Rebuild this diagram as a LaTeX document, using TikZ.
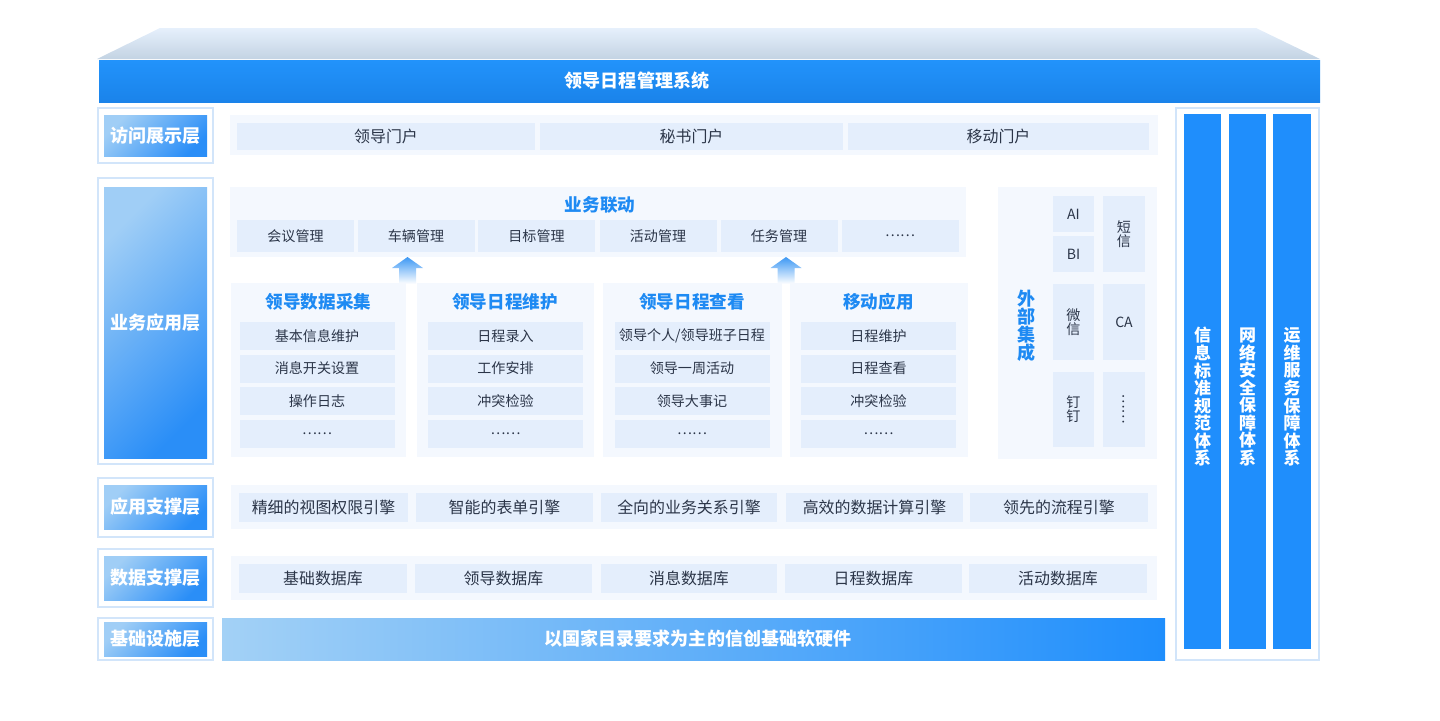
\documentclass[tikz,border=0pt]{standalone}
\usepackage{fontspec}
\setmainfont{Noto Sans CJK SC}
\usepackage{tikz}
\usetikzlibrary{positioning}
\definecolor{sysblue}{HTML}{1E8AF3}
\definecolor{titletop}{HTML}{2293FB}
\definecolor{titlebot}{HTML}{1A83EA}
\definecolor{barblue}{HTML}{1F8EFC}
\definecolor{barlight}{HTML}{A3D1F6}
\definecolor{lblhi}{HTML}{A0CEF6}
\definecolor{lbllo}{HTML}{2A8EF7}
\definecolor{panelbg}{HTML}{F4F8FE}
\definecolor{cellbg}{HTML}{E4EEFC}
\definecolor{framecol}{HTML}{D2E5FA}
\definecolor{inkdark}{HTML}{2B3548}
\definecolor{rooftop}{HTML}{E6F0FC}
\definecolor{roofbot}{HTML}{C3D3E3}
\definecolor{arrowblue}{HTML}{3D98F4}

\begin{document}
\begin{tikzpicture}[x=0.3mm, y=-0.3mm,
  sz/.style 2 args={minimum width=#1*0.3mm, minimum height=#2*0.3mm, inner sep=0pt},
  panel/.style={fill=panelbg},
  cell/.style={fill=cellbg, text=inkdark, font=\fontsize{12}{12}\selectfont},
  bigcell/.style={fill=cellbg, text=inkdark, font=\fontsize{13.6}{14}\selectfont},
  frame/.style={draw=framecol, fill=white, line width=1pt},
  layer/.style={top color=lblhi, bottom color=lbllo, shading angle=45, text=white,
                font=\fontsize{15.4}{16}\selectfont\bfseries},
  head/.style={text=sysblue, font=\fontsize{15}{16}\selectfont\bfseries},
  vcell/.style={cell, align=center},
  vtext/.style={align=center, text=white, font=\fontsize{14.5}{15}\selectfont\bfseries},
  uparrow/.style={top color=arrowblue, bottom color=white, draw=none}
]
  \useasboundingbox (0,0) rectangle (1440,720);

  % ── system roof and title ───────────────────────────────────────────────
  \shade[top color=rooftop, bottom color=roofbot] (97,59) -- (160,28) -- (1256,28) -- (1320,59) -- cycle;
  \node[sz={1221}{42}, top color=titletop, bottom color=titlebot] (sys) at (709.5,81) {};
  \node[text=white, font=\fontsize{15.4}{16}\selectfont\bfseries] (systitle) at (637,81) {领导日程管理系统};

  % ── layer labels ────────────────────────────────────────────────────────
  \node[frame, sz={115}{55}]  (accf) at (155.5,135.5) {};
  \node[layer, sz={103}{41}]  (acc)  at (155.5,135.5) {访问展示层};
  \node[frame, sz={115}{286}] (bizf) at (155.5,321)   {};
  \node[layer, sz={103}{271}] (biz)  at (155.5,322.5) {业务应用层};
  \node[frame, sz={115}{59}]  (supf) at (155.5,507.5) {};
  \node[layer, sz={103}{44}]  (sup)  at (155.5,507)   {应用支撑层};
  \node[frame, sz={115}{58}]  (datf) at (155.5,578)   {};
  \node[layer, sz={103}{44}]  (dat)  at (155.5,578)   {数据支撑层};
  \node[frame, sz={115}{42}]  (inff) at (155.5,639)   {};
  \node[layer, sz={103}{34}]  (inf)  at (155.5,639)   {基础设施层};

  % ── access layer ────────────────────────────────────────────────────────
  \node[panel, sz={928}{40}] (accrow) at (694,135) {};
  \node[bigcell, sz={298}{27}] (p1) at (386,136.5)   {领导门户};
  \node[bigcell, sz={303}{27}] (p2) at (691.5,136.5) {秘书门户};
  \node[bigcell, sz={301}{27}] (p3) at (998.5,136.5) {移动门户};

  % ── business linkage ────────────────────────────────────────────────────
  \node[panel, sz={736}{70}] (link) at (598,222) {};
  \node[head] (linkt) at (600,204.5) {业务联动};
  \node[cell, sz={117}{32}] (l1) at (295.5,236) {会议管理};
  \node[cell, sz={117}{32}] (l2) at (416,236)   {车辆管理};
  \node[cell, sz={117}{32}] (l3) at (536.5,236) {目标管理};
  \node[cell, sz={117}{32}] (l4) at (658,236)   {活动管理};
  \node[cell, sz={117}{32}] (l5) at (779,236)   {任务管理};
  \node[cell, sz={117}{32}] (l6) at (900,236)   {……};

  % ── up arrows ───────────────────────────────────────────────────────────
  \coordinate (a1) at (407.5,284);
  \coordinate (a2) at (786,284);
  \shade[uparrow] (a1) ++(-8.5,0) -- ++(0,-16) -- ++(-7,0) -- ++(15.5,-11) -- ++(15.5,11) -- ++(-7,0) -- ++(0,16) -- cycle;
  \shade[uparrow] (a2) ++(-8.5,0) -- ++(0,-16) -- ++(-7,0) -- ++(15.5,-11) -- ++(15.5,11) -- ++(-7,0) -- ++(0,16) -- cycle;

  % ── leader data collection ──────────────────────────────────────────────
  \node[panel, sz={175}{174}] (c1) at (318.5,370) {};
  \node[head] (c1t) at (318.5,301.5) {领导数据采集};
  \node[cell, sz={155}{28}] (c1a) at (317,336)   {基本信息维护};
  \node[cell, sz={155}{28}] (c1b) at (317,368.5) {消息开关设置};
  \node[cell, sz={155}{28}] (c1c) at (317,401)   {操作日志};
  \node[cell, sz={155}{28}] (c1d) at (317,433.5) {……};

  % ── schedule maintenance ────────────────────────────────────────────────
  \node[panel, sz={177}{174}] (c2) at (505,370) {};
  \node[head] (c2t) at (505,301.5) {领导日程维护};
  \node[cell, sz={155}{28}] (c2a) at (505.5,336)   {日程录入};
  \node[cell, sz={155}{28}] (c2b) at (505.5,368.5) {工作安排};
  \node[cell, sz={155}{28}] (c2c) at (505.5,401)   {冲突检验};
  \node[cell, sz={155}{28}] (c2d) at (505.5,433.5) {……};

  % ── schedule view ───────────────────────────────────────────────────────
  \node[panel, sz={179}{174}] (c3) at (692,370) {};
  \node[head] (c3t) at (692,301.5) {领导日程查看};
  \node[cell, sz={155}{28}] (c3a) at (692,336)   {领导个人/领导班子日程};
  \node[cell, sz={155}{28}] (c3b) at (692,368.5) {领导一周活动};
  \node[cell, sz={155}{28}] (c3c) at (692,401)   {领导大事记};
  \node[cell, sz={155}{28}] (c3d) at (692,433.5) {……};

  % ── mobile app ──────────────────────────────────────────────────────────
  \node[panel, sz={178}{174}] (c4) at (878.5,370) {};
  \node[head] (c4t) at (878.5,301.5) {移动应用};
  \node[cell, sz={155}{28}] (c4a) at (878.5,336)   {日程维护};
  \node[cell, sz={155}{28}] (c4b) at (878.5,368.5) {日程查看};
  \node[cell, sz={155}{28}] (c4c) at (878.5,401)   {冲突检验};
  \node[cell, sz={155}{28}] (c4d) at (878.5,433.5) {……};

  % ── external integration ────────────────────────────────────────────────
  \node[panel, sz={159}{272}] (ext) at (1077.5,323) {};
  \node[head, align=center, font=\fontsize{15.4}{15.4}\selectfont\bfseries] (extt) at (1027,326) {外\\部\\集\\成};
  \node[cell, sz={41}{36}]  (xai) at (1073.5,214)   {AI};
  \node[cell, sz={41}{36}]  (xbi) at (1073.5,254)   {BI};
  \node[vcell, sz={42}{76}] (xsm) at (1124,234)     {短\\信};
  \node[vcell, sz={41}{76}] (xwx) at (1073.5,322)   {微\\信};
  \node[cell, sz={42}{76}]  (xca) at (1124,322)     {CA};
  \node[vcell, sz={41}{75}] (xdd) at (1073.5,409.5) {钉\\钉};
  \node[cell, sz={42}{75}]  (xmo) at (1124,409.5)   {};
  \node[text=inkdark, rotate=90, font=\fontsize{12}{12}\selectfont] (xmot) at (1124,409.5) {……};

  % ── support systems ─────────────────────────────────────────────────────
  \node[frame, sz={143}{552}] (sysf) at (1247.5,384) {};
  \node[fill=barblue, sz={37}{535}] (s1) at (1202.5,381.5) {};
  \node[fill=barblue, sz={37}{535}] (s2) at (1247.5,381.5) {};
  \node[fill=barblue, sz={38}{535}] (s3) at (1292,381.5)   {};
  \node[vtext] (s1t) at (1202.5,397) {信\\息\\标\\准\\规\\范\\体\\系};
  \node[vtext] (s2t) at (1247.5,397) {网\\络\\安\\全\\保\\障\\体\\系};
  \node[vtext] (s3t) at (1292,397)   {运\\维\\服\\务\\保\\障\\体\\系};

  % ── application support ─────────────────────────────────────────────────
  \node[panel, sz={926}{44}] (engrow) at (694,507) {};
  \node[bigcell, sz={169}{29}] (e1) at (323.5,507.5)  {精细的视图权限引擎};
  \node[bigcell, sz={177}{29}] (e2) at (504.5,507.5)  {智能的表单引擎};
  \node[bigcell, sz={176}{29}] (e3) at (689,507.5)    {全向的业务关系引擎};
  \node[bigcell, sz={177}{29}] (e4) at (874.5,507.5)  {高效的数据计算引擎};
  \node[bigcell, sz={178}{29}] (e5) at (1059,507.5)   {领先的流程引擎};

  % ── data support ────────────────────────────────────────────────────────
  \node[panel, sz={926}{44}] (dbrow) at (694,578) {};
  \node[bigcell, sz={168}{29}] (d1) at (323,578.5)    {基础数据库};
  \node[bigcell, sz={177}{29}] (d2) at (503.5,578.5)  {领导数据库};
  \node[bigcell, sz={176}{29}] (d3) at (689,578.5)    {消息数据库};
  \node[bigcell, sz={177}{29}] (d4) at (873.5,578.5)  {日程数据库};
  \node[bigcell, sz={178}{29}] (d5) at (1058,578.5)   {活动数据库};

  % ── infrastructure ──────────────────────────────────────────────────────
  \node[sz={943}{42}, left color=barlight, right color=barblue] (base) at (693.5,639) {};
  \node[text=white, font=\fontsize{15.4}{16}\selectfont\bfseries] (baset) at (698,639) {以国家目录要求为主的信创基础软硬件};
\end{tikzpicture}
\end{document}
